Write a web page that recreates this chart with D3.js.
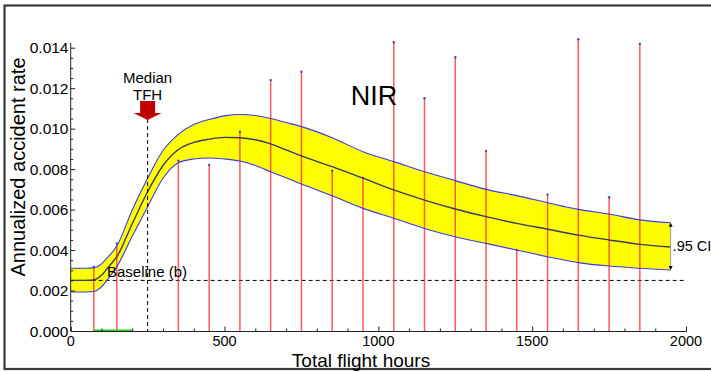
<!DOCTYPE html>
<html>
<head>
<meta charset="utf-8">
<script src="https://cdn.jsdelivr.net/npm/d3@7"></script>
<style>
  html, body { margin: 0; padding: 0; background: #fff; }
  svg { display: block; font-family: "Liberation Sans", Arial, sans-serif; }
</style>
</head>
<body>
<svg id="chart" width="711" height="372"></svg>
<script>
// Fitted annual accident rate by total flight hours, with 95% confidence band
const curveHours = [0, 50, 75, 100, 125, 150, 200, 250, 300, 350, 400, 450, 500, 550, 600, 650, 700, 750, 850, 950, 1050, 1150, 1250, 1350, 1450, 1550, 1650, 1750, 1850, 1950];
const meanRate  = [0.00250, 0.00250, 0.00252, 0.00275, 0.00320, 0.00367, 0.00530, 0.00688, 0.00818, 0.00897, 0.00932, 0.00948, 0.00957, 0.00955, 0.00945, 0.00925, 0.00895, 0.00865, 0.00812, 0.00755, 0.00697, 0.00647, 0.00603, 0.00565, 0.00532, 0.00503, 0.00474, 0.00450, 0.00428, 0.00415];
const upperRate = [0.00310, 0.00310, 0.00312, 0.00332, 0.00372, 0.00420, 0.00598, 0.00755, 0.00892, 0.00972, 0.01020, 0.01045, 0.01063, 0.01070, 0.01065, 0.01050, 0.01030, 0.01010, 0.00955, 0.00886, 0.00837, 0.00787, 0.00743, 0.00700, 0.00669, 0.00634, 0.00601, 0.00578, 0.00549, 0.00535];
const lowerRate = [0.00193, 0.00193, 0.00195, 0.00218, 0.00265, 0.00318, 0.00468, 0.00614, 0.00755, 0.00832, 0.00850, 0.00855, 0.00850, 0.00840, 0.00818, 0.00787, 0.00757, 0.00726, 0.00668, 0.00606, 0.00557, 0.00507, 0.00466, 0.00433, 0.00400, 0.00367, 0.00338, 0.00321, 0.00310, 0.00301];

// Observed rates per flight-hour bin
const binHours = [75, 150, 350, 450, 550, 650, 750, 850, 950, 1050, 1150, 1250, 1350, 1450, 1550, 1650, 1750, 1850];
const binRates = [0.00318, 0.00433, 0.00842, 0.00820, 0.00985, 0.01240, 0.01281, 0.00792, 0.00756, 0.01427, 0.01150, 0.01353, 0.00890, 0.00400, 0.00674, 0.01442, 0.00661, 0.01418];

// Reference values
const baselineRate = 0.0025;
const medianHours = 250;
const lowRange = [75, 200];

const xTicks = [0, 500, 1000, 1500, 2000];
const yTicks = [0, 0.002, 0.004, 0.006, 0.008, 0.010, 0.012, 0.014];

const svg = d3.select("#chart");
const x = d3.scaleLinear().domain([0, 2000]).range([70.7, 686]);
const y = d3.scaleLinear().domain([0, 0.014]).range([331, 47.7]);

// outer frame
svg.append("rect").attr("x", 4.5).attr("y", 5.5).attr("width", 740).attr("height", 363.5)
  .attr("fill", "none").attr("stroke", "#3a3a3a").attr("stroke-width", 2.2);

const rows = curveHours.map((h, i) => ({ h, m: meanRate[i], u: upperRate[i], l: lowerRate[i] }));

// confidence band
svg.append("path").datum(rows)
  .attr("d", d3.area().x(d => x(d.h)).y0(d => y(d.l)).y1(d => y(d.u)).curve(d3.curveMonotoneX))
  .attr("fill", "#ffff00");

// baseline
svg.append("line").attr("x1", x(0)).attr("x2", x(2000))
  .attr("y1", y(baselineRate)).attr("y2", y(baselineRate))
  .attr("stroke", "#000").attr("stroke-width", 1).attr("stroke-dasharray", "4,3");

// observed bins
const bins = binHours.map((h, i) => ({ h, r: binRates[i] }));
svg.append("g").selectAll("line").data(bins).join("line")
  .attr("x1", d => x(d.h)).attr("x2", d => x(d.h))
  .attr("y1", y(0)).attr("y2", d => y(d.r))
  .attr("stroke", "#ff3030").attr("stroke-opacity", 0.8).attr("stroke-width", 1.5);
svg.append("g").selectAll("circle").data(bins).join("circle")
  .attr("cx", d => x(d.h)).attr("cy", d => y(d.r)).attr("r", 1.2)
  .attr("fill", "#4050c0");

// band edges and fitted curve
const lineOf = key => d3.line().x(d => x(d.h)).y(d => y(d[key])).curve(d3.curveMonotoneX);
svg.append("path").datum(rows).attr("d", lineOf("u")).attr("fill", "none").attr("stroke", "#3a3af0").attr("stroke-width", 1.1);
svg.append("path").datum(rows).attr("d", lineOf("l")).attr("fill", "none").attr("stroke", "#3a3af0").attr("stroke-width", 1.1);
svg.append("path").datum(rows).attr("d", lineOf("m")).attr("fill", "none").attr("stroke", "#3a3a66").attr("stroke-width", 1.4);

// low-hours range marker
svg.append("line").attr("x1", x(lowRange[0])).attr("x2", x(lowRange[1]))
  .attr("y1", y(0) - 0.5).attr("y2", y(0) - 0.5)
  .attr("stroke", "#22cc22").attr("stroke-width", 2);

// median marker
const mx = x(medianHours);
svg.append("line").attr("x1", mx).attr("x2", mx).attr("y1", 119).attr("y2", y(0))
  .attr("stroke", "#000").attr("stroke-width", 1).attr("stroke-dasharray", "4,3");
svg.append("path")
  .attr("d", `M${mx - 7.5},101 L${mx + 7.5},101 L${mx + 7.5},113 L${mx + 14},113 L${mx},120 L${mx - 14},113 L${mx - 7.5},113 Z`)
  .attr("fill", "#c00000");
svg.append("text").attr("x", mx).attr("y", 83).attr("text-anchor", "middle")
  .attr("font-size", 15).text("Median");
svg.append("text").attr("x", mx).attr("y", 100).attr("text-anchor", "middle")
  .attr("font-size", 15).text("TFH");

// axes
const xAxis = svg.append("g").attr("transform", `translate(0,${y(0)})`);
xAxis.call(d3.axisBottom(x).tickValues(d3.range(0, 2001, 100)).tickSize(-2.5).tickFormat(""));
xAxis.call(g => g.selectAll(".tick").filter(d => xTicks.includes(d)).select("line").attr("y2", -4.5));
xAxis.selectAll("text").remove();
xAxis.select(".domain").attr("stroke", "#222");
xAxis.selectAll("line").attr("stroke", "#222");
svg.append("g").selectAll("text").data(xTicks).join("text")
  .attr("x", d => x(d)).attr("y", 346).attr("text-anchor", "middle")
  .attr("font-size", 14.5).text(d => d);

const yAxis = svg.append("g").attr("transform", `translate(${x(0)},0)`);
yAxis.call(d3.axisLeft(y).tickValues(d3.range(0, 29).map(i => i * 0.0005)).tickSize(-2.5).tickFormat(""));
yAxis.call(g => g.selectAll(".tick").filter(d => yTicks.some(t => Math.abs(t - d) < 1e-9)).select("line").attr("x2", 4.5));
yAxis.select(".domain").attr("d", `M0,${y(0)}V43`).attr("stroke", "#222");
yAxis.selectAll("line").attr("stroke", "#222");
svg.append("g").selectAll("text").data(yTicks).join("text")
  .attr("x", 68.5).attr("y", d => y(d) + 5.5).attr("text-anchor", "end")
  .attr("font-size", 15.5).text(d => d.toFixed(3));

// axis titles
svg.append("text").attr("x", 361).attr("y", 367).attr("text-anchor", "middle")
  .attr("font-size", 19).text("Total flight hours");
svg.append("text").attr("transform", "translate(25,167) rotate(-90)").attr("text-anchor", "middle")
  .attr("font-size", 20).text("Annualized accident rate");

// annotations
svg.append("text").attr("x", 374).attr("y", 105).attr("text-anchor", "middle")
  .attr("font-size", 27).text("NIR");
svg.append("text").attr("x", 107).attr("y", 277).attr("font-size", 15).text("Baseline (b)");

// CI span indicator at the end of the band
const last = rows[rows.length - 1];
const cx = x(last.h);
svg.append("line").attr("x1", cx).attr("x2", cx).attr("y1", y(last.u) + 1).attr("y2", y(last.l) - 1)
  .attr("stroke", "#999").attr("stroke-width", 1);
svg.append("path").attr("d", `M${cx - 2},${y(last.u) + 4} L${cx},${y(last.u)} L${cx + 2},${y(last.u) + 4} Z`).attr("fill", "#000");
svg.append("path").attr("d", `M${cx - 2},${y(last.l) - 4} L${cx},${y(last.l)} L${cx + 2},${y(last.l) - 4} Z`).attr("fill", "#000");
svg.append("text").attr("x", cx + 2).attr("y", (y(last.u) + y(last.l)) / 2 + 5)
  .attr("font-size", 14.5).text(".95 CI");
</script>
</body>
</html>
